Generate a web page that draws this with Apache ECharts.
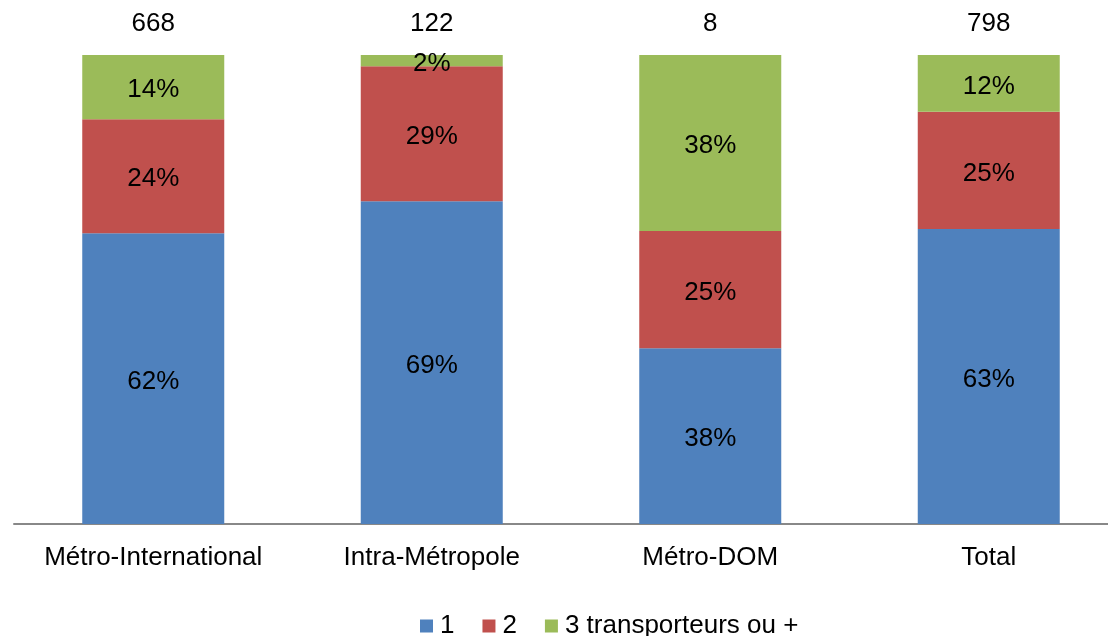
<!DOCTYPE html>
<html>
<head>
<meta charset="utf-8">
<script src="https://cdn.jsdelivr.net/npm/echarts@6/dist/echarts.min.js"></script>
<style>
html,body{margin:0;padding:0;background:#fff;overflow:hidden;}
#chart{width:1130px;height:636px;}
</style>
</head>
<body>
<div id="chart"></div>
<script>
const categories = ['Métro-International', 'Intra-Métropole', 'Métro-DOM', 'Total'];
const totals = [668, 122, 8, 798];
const seriesNames = ['1', '2', '3 transporteurs ou +'];
const share1 = [62, 68.8, 37.5, 62.9];
const share2 = [24.3, 28.8, 25, 25];
const share3 = [13.7, 2.4, 37.5, 12.1];
const colors = ['#4F81BD', '#C0504D', '#9BBB59'];

const FONT = "'Liberation Sans', Arial, sans-serif";
const chart = echarts.init(document.getElementById('chart'));

function mk(name, data, color) {
  return {
    name: name,
    type: 'bar',
    stack: 'all',
    data: data,
    barWidth: 142,
    itemStyle: { color: color },
    label: {
      show: true,
      position: 'inside',
      offset: [0, 3],
      fontFamily: FONT,
      fontSize: 26,
      color: '#000',
      formatter: p => Math.round(p.value) + '%'
    }
  };
}

chart.setOption({
  animation: false,
  backgroundColor: '#fff',
  textStyle: { fontFamily: FONT },
  grid: { left: 14, width: 1114, top: 55, bottom: 112, containLabel: false },
  legend: {
    data: seriesNames,
    left: 415,
    top: 608,
    icon: 'rect',
    itemWidth: 13,
    itemHeight: 13,
    itemGap: 28,
    textStyle: { fontFamily: FONT, fontSize: 26, color: '#000', padding: [0, 0, 0, 2] }
  },
  xAxis: [{
    type: 'category',
    data: categories,
    position: 'bottom',
    axisLine: { show: true, lineStyle: { color: '#888', width: 2 } },
    axisTick: { show: false },
    axisLabel: { fontFamily: FONT, fontSize: 26, color: '#000', margin: 21, interval: 0 }
  }, {
    type: 'category',
    data: totals.map(String),
    position: 'top',
    axisLine: { show: false },
    axisTick: { show: false },
    axisLabel: { fontFamily: FONT, fontSize: 26, color: '#000', margin: 18, interval: 0 }
  }],
  yAxis: {
    type: 'value',
    min: 0,
    max: 100,
    show: false,
    splitLine: { show: false }
  },
  series: [
    mk(seriesNames[0], share1, colors[0]),
    mk(seriesNames[1], share2, colors[1]),
    mk(seriesNames[2], share3, colors[2])
  ]
});
</script>
</body>
</html>
